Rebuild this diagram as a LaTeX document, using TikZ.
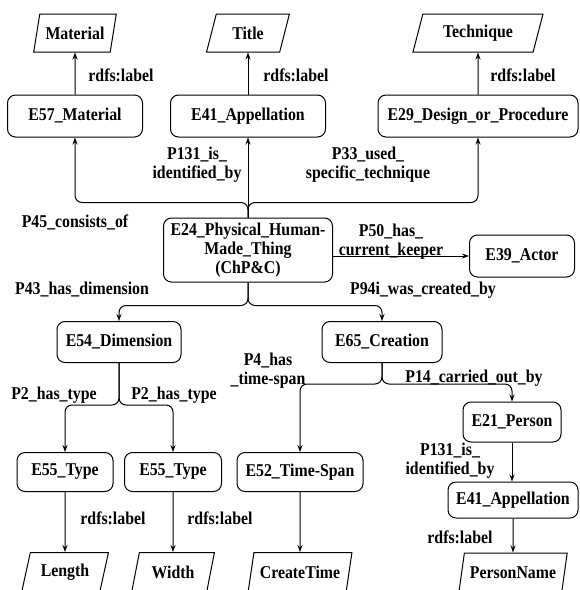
\documentclass[tikz,border=0pt]{standalone}
\usepackage{fontspec}
\setmainfont{Liberation Serif}[FakeStretch=0.88]
\usepackage{tikz}
\usetikzlibrary{
    shapes.geometric,
    arrows.meta,
    positioning
}

\begin{document}
\begin{tikzpicture}[
    x=1pt, y=-1pt,
    font=\fontsize{18}{19}\selectfont\bfseries,
    entity/.style={rectangle, rounded corners=8pt, draw=black, line width=1pt,
                   minimum height=41pt, inner sep=2pt, align=center},
    literal/.style={trapezium, trapezium left angle=72, trapezium right angle=108,
                    trapezium stretches=true, draw=black, line width=1pt,
                    minimum height=38pt, inner sep=2pt},
    prop/.style={inner sep=0pt, align=center},
    arrow/.style={line width=1pt,->,>={Stealth[length=7pt,width=5pt]}}
]
    \useasboundingbox (0,0) rectangle (580,590);

    % Nodes
    \node (e24) [entity, minimum width=169pt, minimum height=64pt] at (248,250)
        {E24\_Physical\_Human-\\Made\_Thing\\(ChP\&C)};
    \node (e57) [entity, minimum width=135pt, minimum height=42pt] at (75,116) {E57\_Material};
    \node (e41) [entity, minimum width=155pt, minimum height=42pt] at (248,116) {E41\_Appellation};
    \node (e29) [entity, minimum width=200pt, minimum height=42pt] at (478,116) {E29\_Design\_or\_Procedure};
    \node (e39) [entity, minimum width=105pt, minimum height=42pt] at (522,256) {E39\_Actor};
    \node (e54) [entity, minimum width=124pt] at (119,342) {E54\_Dimension};
    \node (e65) [entity, minimum width=120pt] at (382,342) {E65\_Creation};
    \node (e55a) [entity, minimum width=96pt, minimum height=39pt] at (65,472) {E55\_Type};
    \node (e55b) [entity, minimum width=97pt, minimum height=39pt] at (173,472) {E55\_Type};
    \node (e52) [entity, minimum width=126pt, minimum height=39pt] at (300,472) {E52\_Time-Span};
    \node (e21) [entity, minimum width=98pt, minimum height=40pt] at (512,422) {E21\_Person};
    \node (e41b) [entity, minimum width=130pt, minimum height=36pt] at (513,500) {E41\_Appellation};

    \node (material) [literal, minimum width=83pt, above=42pt of e57] {Material};
    \node (title) [literal, minimum width=83pt, above=42pt of e41] {Title};
    \node (technique) [literal, minimum width=131pt, above=42pt of e29] {Technique};
    \node (length) [literal, minimum width=87pt, minimum height=40pt, below=60pt of e55a] {Length};
    \node (widthval) [literal, minimum width=83pt, minimum height=40pt, below=60pt of e55b] {Width};
    \node (createtime) [literal, minimum width=104pt, minimum height=40pt, below=60pt of e52] {CreateTime};
    \node (personname) [literal, minimum width=109pt, minimum height=40pt, below=34pt of e41b] {PersonName};

    % Labels
    \node (labmat) [prop] at (121,75) {rdfs:label};
    \node (labtitle) [prop] at (296,75) {rdfs:label};
    \node (labtech) [prop] at (523,75) {rdfs:label};
    \node (p131) [prop] at (197,165) {P131\_is\_\\identified\_by};
    \node (p33) [prop] at (368,165) {P33\_used\_\\specific\_technique};
    \node (p45) [prop] at (75,222) {P45\_consists\_of};
    \node (p50) [prop] at (391,242) {P50\_has\_\\current\_keeper};
    \node (p43) [prop] at (82,290) {P43\_has\_dimension};
    \node (p94i) [prop] at (423,290) {P94i\_was\_created\_by};
    \node (p2a) [prop] at (54,395) {P2\_has\_type};
    \node (p2b) [prop] at (174,395) {P2\_has\_type};
    \node (p4) [prop] at (268,371) {P4\_has\\\_time-span};
    \node (p14) [prop] at (474,378) {P14\_carried\_out\_by};
    \node (p131b) [prop] at (450,461) {P131\_is\_\\identified\_by};
    \node (lablen) [prop] at (113,518) {rdfs:label};
    \node (labwid) [prop] at (220,518) {rdfs:label};
    \node (labname) [prop] at (460,537) {rdfs:label};

    % Arrows
    \draw [arrow] (e57) -- (material);
    \draw [arrow] (e41) -- (title);
    \draw [arrow] (e29) -- (technique);
    \draw [arrow] (e24) -- (e41);
    \draw [arrow, rounded corners=7pt] (e24.north) -- ++(0,-15) -| (e57.south);
    \draw [arrow, rounded corners=7pt] (e24.north) -- ++(0,-15) -| (e29.south);
    \draw [arrow] (e24.east |- e39.west) -- (e39.west);
    \draw [arrow, rounded corners=7pt] (e24.south) -- ++(0,23) -| (e54.north);
    \draw [arrow, rounded corners=7pt] (e24.south) -- ++(0,23) -| (e65.north);
    \draw [arrow, rounded corners=7pt] (e54.south) -- ++(0,42) -| (e55a.north);
    \draw [arrow, rounded corners=7pt] (e54.south) -- ++(0,42) -| (e55b.north);
    \draw [arrow, rounded corners=7pt] (e65.south) -- ++(0,21) -| (e52.north);
    \draw [arrow, rounded corners=7pt] (e65.south) -- ++(0,21) -| (e21.north);
    \draw [arrow] (e21.south) -- (e21.south |- e41b.north);
    \draw [arrow] (e55a) -- (length);
    \draw [arrow] (e55b) -- (widthval);
    \draw [arrow] (e52) -- (createtime);
    \draw [arrow] (e41b) -- (personname);

\end{tikzpicture}
\end{document}
